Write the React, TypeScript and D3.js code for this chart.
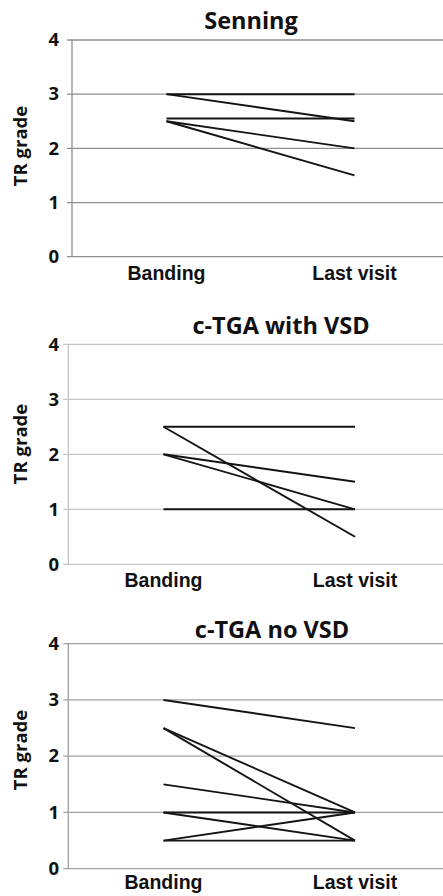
import React from "react";
import * as d3 from "d3";

const categories = ["Banding", "Last visit"];
const yTicks = [0, 1, 2, 3, 4];
const titles = ["Senning", "c-TGA with VSD", "c-TGA no VSD"];

const senningBanding = [3, 3, 2.55, 2.5, 2.5];
const senningLast = [3, 2.5, 2.55, 2, 1.5];
const vsdBanding = [2.5, 2.5, 2, 2, 1];
const vsdLast = [2.5, 0.5, 1.5, 1, 1];
const noVsdBanding = [3, 2.5, 2.5, 1.5, 1, 1, 0.5, 0.5];
const noVsdLast = [2.5, 1, 0.5, 1, 1, 0.5, 1, 0.5];

const series = [
  { b: senningBanding, l: senningLast },
  { b: vsdBanding, l: vsdLast },
  { b: noVsdBanding, l: noVsdLast },
];

const layouts = [
  { axisX: 72, top: 40, bottom: 256.7, x0: 166.5, x1: 354.5, titleX: 251, titleY: 29, labelY: 280, yLabY: 146, grid: "#8f8f8f" },
  { axisX: 68.3, top: 344.3, bottom: 564.3, x0: 163.5, x1: 355, titleX: 281, titleY: 334, labelY: 587, yLabY: 444, grid: "#c4c4c4" },
  { axisX: 68.3, top: 643.7, bottom: 868.7, x0: 163.5, x1: 355, titleX: 272, titleY: 638, labelY: 889, yLabY: 750, grid: "#a0a0a0" },
];

const W = 443;
const H = 896;
const calib = "'Open Sans', 'Noto Sans', sans-serif";
const arial = "'Liberation Sans', Arial, sans-serif";

function Panel({ idx }: { idx: number }) {
  const L = layouts[idx];
  const s = series[idx];
  const y = d3.scaleLinear().domain([0, 4]).range([L.bottom, L.top]);
  const x = d3.scalePoint<string>().domain(categories).range([L.x0, L.x1]);
  const line = d3
    .line<[string, number]>()
    .x((d) => x(d[0]) as number)
    .y((d) => y(d[1]));
  return (
    <g>
      <text x={L.titleX} y={L.titleY} textAnchor="middle" fontFamily={calib} fontWeight={700} fontSize={23.5} fill="#111">
        {titles[idx]}
      </text>
      {yTicks.map((t) => (
        <g key={t}>
          <line x1={L.axisX - 5} x2={W} y1={y(t)} y2={y(t)} stroke={L.grid} strokeWidth={1.3} />
          <text x={59} y={y(t)} dy="0.34em" textAnchor="end" fontFamily={calib} fontWeight={700} fontSize={18.5} fill="#111">
            {t}
          </text>
        </g>
      ))}
      <line x1={L.axisX} x2={L.axisX} y1={L.top} y2={L.bottom} stroke={L.grid} strokeWidth={1.3} />
      <text
        transform={`translate(21,${L.yLabY}) rotate(-90)`}
        dy="0.35em"
        textAnchor="middle"
        fontFamily={calib}
        fontWeight={700}
        fontSize={18.5}
        fill="#111"
      >
        TR grade
      </text>
      {categories.map((c) => (
        <text key={c} x={x(c)} y={L.labelY} textAnchor="middle" fontFamily={arial} fontWeight={700} fontSize={19.5} fill="#111">
          {c}
        </text>
      ))}
      {s.b.map((v, i) => (
        <path
          key={i}
          d={line([
            [categories[0], v],
            [categories[1], s.l[i]],
          ]) as string}
          fill="none"
          stroke="#141414"
          strokeWidth={1.9}
        />
      ))}
    </g>
  );
}

export default function App() {
  return (
    <svg width={W} height={H} style={{ position: "absolute", left: 0, top: 0, background: "#fff" }}>
      <rect width={W} height={H} fill="#fff" />
      {[0, 1, 2].map((i) => (
        <Panel key={i} idx={i} />
      ))}
    </svg>
  );
}
